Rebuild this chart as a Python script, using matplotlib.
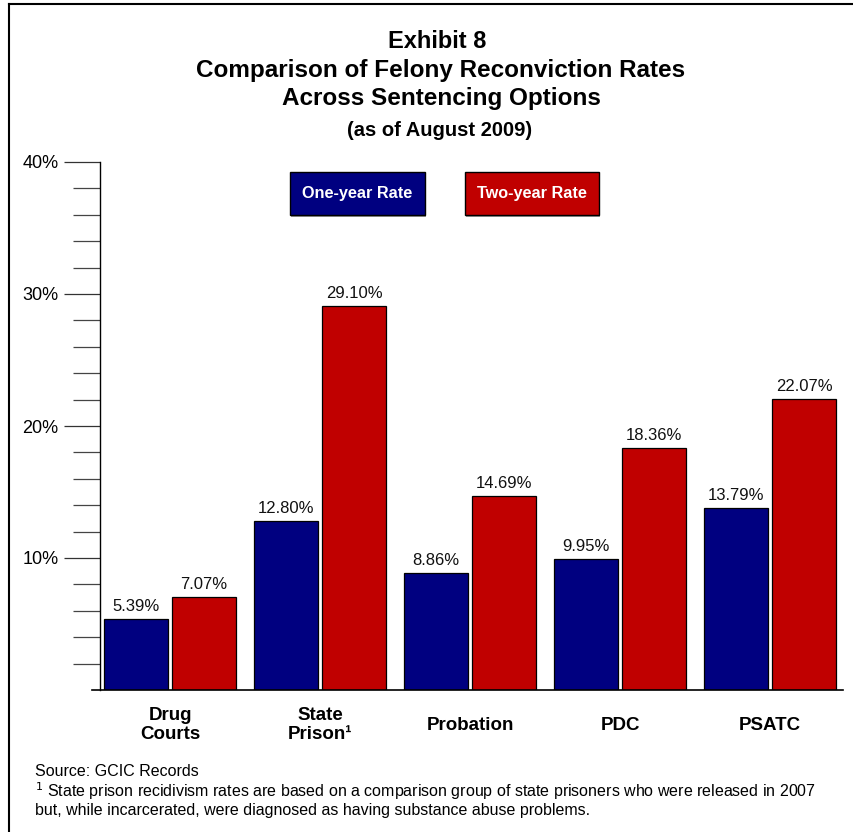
import matplotlib
matplotlib.use("Agg")
import matplotlib.pyplot as plt
from matplotlib.patches import Rectangle
from matplotlib.lines import Line2D
import numpy as np

plt.rcParams['font.family'] = ['Liberation Sans', 'DejaVu Sans']

categories = ["Drug\nCourts", "State\nPrison¹", "Probation", "PDC", "PSATC"]
one_year = [5.39, 12.80, 8.86, 9.95, 13.79]
two_year = [7.07, 29.10, 14.69, 18.36, 22.07]
series_names = ["One-year Rate", "Two-year Rate"]
colors = ["#000080", "#C00000"]
yticks_major = [10, 20, 30, 40]
yticklabels = ["10%", "20%", "30%", "40%"]

W, H = 854, 832
fig = plt.figure(figsize=(W / 100, H / 100), dpi=100)

def fx(px):
    return px / W

def fy(py):
    return 1 - py / H

ax = fig.add_axes([fx(92), fy(690), fx(843) - fx(92), fy(162) - fy(690)])
unit = 150.0
x0_px = 170.0
xl = (92 - x0_px) / unit
xr = (843 - x0_px) / unit
yaxis_x = (100 - x0_px) / unit
ax.set_xlim(xl, xr)
ax.set_ylim(0, 40)

x = np.arange(len(categories))
bw = 64 / unit
off = 34 / unit
b1 = ax.bar(x - off, one_year, width=bw, color=colors[0], edgecolor="black", linewidth=0.9)
b2 = ax.bar(x + off, two_year, width=bw, color=colors[1], edgecolor="black", linewidth=0.9)

for bars, vals in ((b1, one_year), (b2, two_year)):
    for r, v in zip(bars, vals):
        ax.annotate(f"{v:.2f}%", (r.get_x() + r.get_width() / 2, v),
                    xytext=(0, 3.5), textcoords="offset points",
                    ha="center", va="bottom", fontsize=12, color="#111111")

for s in ("top", "right"):
    ax.spines[s].set_visible(False)
ax.spines["left"].set_position(("data", yaxis_x))
ax.spines["left"].set_linewidth(1.0)
ax.spines["bottom"].set_linewidth(1.2)

ax.set_yticks(yticks_major)
ax.set_yticklabels(yticklabels, fontsize=13)
ax.set_yticks(np.arange(2, 40, 2), minor=True)
ax.tick_params(axis="y", which="major", length=26, width=0.9, color="#333333", pad=4)
ax.tick_params(axis="y", which="minor", length=19.5, width=0.9, color="#444444")

ax.set_xticks(x)
ax.set_xticklabels(categories, fontsize=13.5, fontweight="bold", linespacing=1.2)
ax.tick_params(axis="x", length=0, pad=12)
for lab in ax.get_xticklabels():
    lab.set_va("center")
    lab.set_y(-0.035)

# titles
fig.text(fx(437), fy(42), "Exhibit 8", ha="center", va="center", fontsize=17, fontweight="bold")
fig.text(fx(441), fy(71), "Comparison of Felony Reconviction Rates", ha="center", va="center",
         fontsize=17.5, fontweight="bold")
fig.text(fx(441), fy(99), "Across Sentencing Options", ha="center", va="center",
         fontsize=17.5, fontweight="bold")
fig.text(fx(440), fy(130), "(as of August 2009)", ha="center", va="center",
         fontsize=14.5, fontweight="bold")

# legend boxes
for (l, r), name, c in zip(((290, 425), (465, 599)), series_names, colors):
    t, b = 172, 215
    shadow = Rectangle((fx(l + 1.5), fy(b + 1.5)), fx(r - l), fy(t) - fy(b),
                       transform=fig.transFigure, facecolor="#999999", edgecolor="none")
    fig.add_artist(shadow)
    box = Rectangle((fx(l), fy(b)), fx(r - l), fy(t) - fy(b),
                    transform=fig.transFigure, facecolor=c, edgecolor="black", linewidth=1)
    fig.add_artist(box)
    fig.text(fx((l + r) / 2), fy((t + b) / 2), name, ha="center", va="center",
             color="white", fontsize=11.7, fontweight="bold")

# footnotes
fig.text(fx(35), fy(772), "Source: GCIC Records", ha="left", va="center", fontsize=11.5)
fig.text(fx(35), fy(791), "$^{1}$ State prison recidivism rates are based on a comparison group of state prisoners who were released in 2007",
         ha="left", va="center", fontsize=11.5)
fig.text(fx(35), fy(810), "but, while incarcerated, were diagnosed as having substance abuse problems.",
         ha="left", va="center", fontsize=11.5)

# frame lines (left and top)
fig.add_artist(Line2D([fx(9), fx(9)], [fy(4), 0], transform=fig.transFigure, color="black", linewidth=1.5))
fig.add_artist(Line2D([fx(9), 1], [fy(4), fy(4)], transform=fig.transFigure, color="black", linewidth=1.5))

fig.savefig("out.png", dpi=100)
